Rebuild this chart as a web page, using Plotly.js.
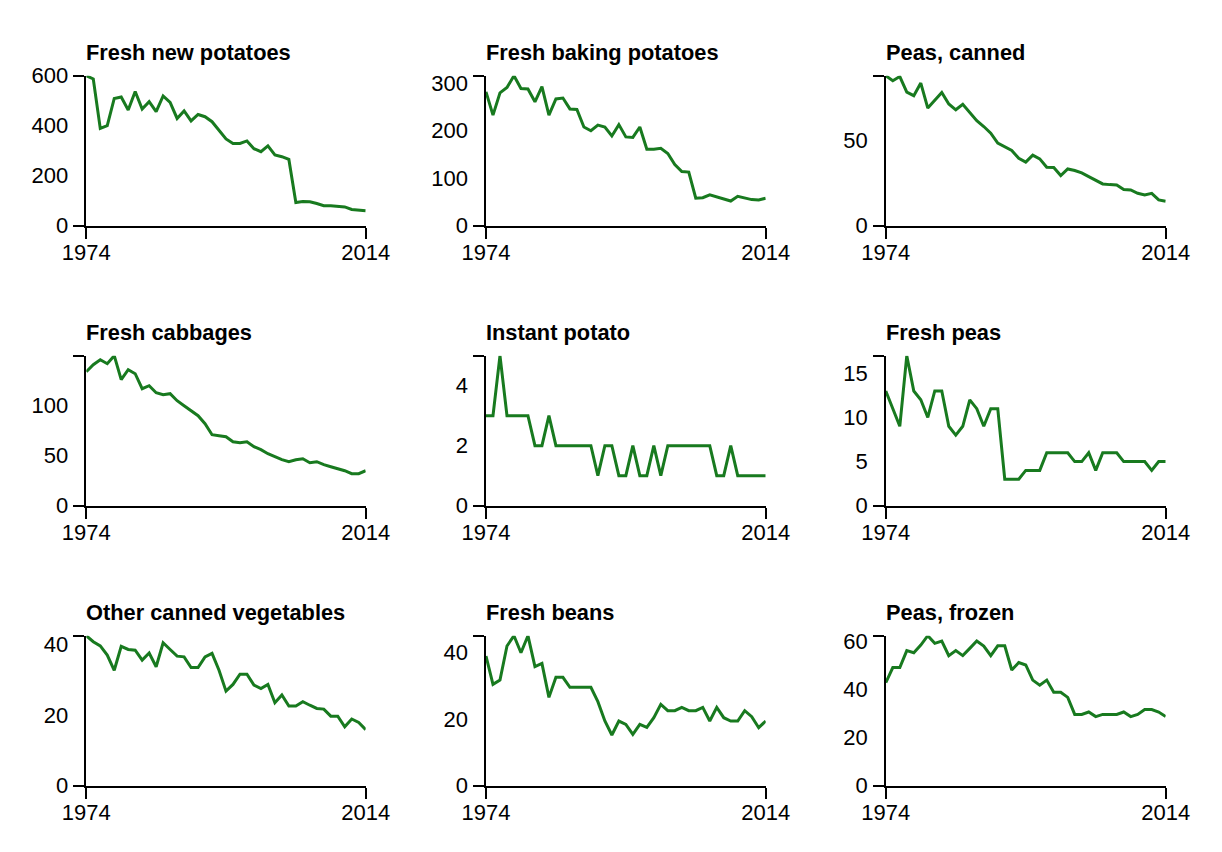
<!DOCTYPE html>
<html>
<head>
<meta charset="utf-8">
<script src="https://cdn.plot.ly/plotly-3.0.1.min.js"></script>
<style>
html,body{margin:0;padding:0;background:#fff;}
#chart{width:1222px;height:852px;}
</style>
</head>
<body>
<div id="chart"></div>
<script>
const years = [1974,1975,1976,1977,1978,1979,1980,1981,1982,1983,1984,1985,1986,1987,1988,1989,1990,1991,1992,1993,1994,1995,1996,1997,1998,1999,2000,2001,2002,2003,2004,2005,2006,2007,2008,2009,2010,2011,2012,2013,2014];
const xTickLabels = [1974, 2014];

const titles = ["Fresh new potatoes","Fresh baking potatoes","Peas, canned","Fresh cabbages","Instant potato","Fresh peas","Other canned vegetables","Fresh beans","Peas, frozen"];

const freshNewPotatoes = [600,587,389,400,509,515,463,537,467,496,456,519,493,429,459,419,445,436,416,383,347,329,329,339,308,296,319,283,276,265,93,97,96,89,80,80,77,75,65,64,60];
const freshBakingPotatoes = [282,233,280,291,316,289,288,261,293,233,267,269,246,245,208,200,212,208,189,213,187,186,208,161,161,163,152,129,114,113,58,59,65,61,56,52,62,59,55,54,58];
const peasCanned = [88,85,87.5,78.4,76.3,83.7,69,73.5,78.2,71.4,68,71.2,66.7,61.6,58.2,54.3,48.4,46,44.1,39.6,37.3,41.4,39.2,34.3,34.1,29.4,33.3,32.4,31,28.8,26.5,24.5,24.1,23.9,21.2,21,19,18,19,15.1,14.3];
const freshCabbages = [134,141,146,142,150,126,136,132,117,120,113,111,112,105,100,95,90,82,71,70,69,64,63,64,59,56,52,49,46,44,46,47,43,44,41,39,37,35,32,32,35];
const instantPotato = [3,3,5,3,3,3,3,2,2,3,2,2,2,2,2,2,1,2,2,1,1,2,1,1,2,1,2,2,2,2,2,2,2,1,1,2,1,1,1,1,1];
const freshPeas = [13,11,9,17,13,12,10,13,13,9,8,9,12,11,9,11,11,3,3,3,4,4,4,6,6,6,6,5,5,6,4,6,6,6,5,5,5,5,4,5,5];
const otherCannedVegetables = [42.5,40.8,39.6,37,32.7,39.5,38.6,38.4,35.6,37.6,33.7,40.5,38.6,36.7,36.5,33.5,33.5,36.5,37.5,32.7,26.8,28.7,31.6,31.6,28.5,27.5,28.7,23.5,25.7,22.6,22.6,23.8,22.8,21.9,21.7,19.7,19.7,16.7,18.9,17.9,15.9];
const freshBeans = [38.9,30.4,31.7,41.9,45,39.9,45,35.7,36.7,26.5,32.5,32.5,29.5,29.5,29.5,29.5,25.2,19.4,15.2,19.4,18.4,15.4,18.4,17.5,20.4,24.4,22.5,22.5,23.5,22.5,22.5,23.5,19.4,23.5,20.4,19.4,19.4,22.5,20.7,17.4,19.4];
const peasFrozen = [42.9,49.2,49.2,56.3,55.4,58.6,62.5,59.3,60.3,54.2,56.3,54.2,57.2,60.3,58.2,54.2,58.3,58.3,48.2,51.3,50.3,44,41.9,44,38.9,38.9,36.8,29.7,29.7,30.7,28.8,29.7,29.7,29.7,30.7,28.8,29.7,31.7,31.7,30.7,28.8];

const seriesList = [freshNewPotatoes, freshBakingPotatoes, peasCanned, freshCabbages, instantPotato, freshPeas, otherCannedVegetables, freshBeans, peasFrozen];

const yTicks1 = [0,200,400,600];
const yTicks2 = [0,100,200,300];
const yTicks3 = [0,50];
const yTicks4 = [0,50,100];
const yTicks5 = [0,2,4];
const yTicks6 = [0,5,10,15];
const yTicks7 = [0,20,40];
const yTicks8 = [0,20,40];
const yTicks9 = [0,20,40,60];
const yTickList = [yTicks1,yTicks2,yTicks3,yTicks4,yTicks5,yTicks6,yTicks7,yTicks8,yTicks9];

const W = 1222, H = 852;
const GREEN = '#187a1f';
const FONT = '"Liberation Sans", Arial, Helvetica, sans-serif';
const colPx = [[86.3,365.7],[486,765.7],[885.8,1165.7]];
const rowPx = [[75.7,225.7],[355.7,505.7],[635.7,785.7]];

const traces = [];
const layout = {
  width: W, height: H,
  margin: {l:0, r:0, t:0, b:0},
  paper_bgcolor: '#fff', plot_bgcolor: '#fff',
  showlegend: false,
  hovermode: false,
  font: {family: FONT, color: '#000'},
  annotations: []
};

seriesList.forEach((vals, i) => {
  const r = Math.floor(i / 3), c = i % 3, n = i + 1;
  const sfx = n === 1 ? '' : String(n);
  const xa = 'x' + sfx, ya = 'y' + sfx, yl = 'y' + (9 + n);
  const ymax = Math.max.apply(null, vals);
  // invisible carrier trace so the label-only overlay axis is drawn
  traces.push({
    x: years, y: vals, type: 'scatter', mode: 'lines',
    xaxis: xa, yaxis: yl,
    line: {color: 'rgba(0,0,0,0)', width: 0},
    opacity: 0, hoverinfo: 'skip'
  });
  traces.push({
    x: years, y: vals, type: 'scatter', mode: 'lines',
    xaxis: xa, yaxis: ya,
    line: {color: GREEN, width: 3},
    hoverinfo: 'skip'
  });
  layout['xaxis' + sfx] = {
    domain: [colPx[c][0] / W, colPx[c][1] / W],
    anchor: ya,
    range: [1974, 2014],
    tickmode: 'array', tickvals: xTickLabels, ticktext: xTickLabels.map(String),
    ticks: 'outside', ticklen: 11, tickwidth: 2, tickcolor: '#000',
    showline: true, linewidth: 2, linecolor: '#000',
    showgrid: false, zeroline: false,
    tickfont: {family: FONT, size: 22, color: '#000'},
    ticklabelstandoff: -5,
    fixedrange: true
  };
  layout['yaxis' + sfx] = {
    domain: [1 - rowPx[r][1] / H, 1 - rowPx[r][0] / H],
    anchor: xa,
    range: [0, ymax],
    tickmode: 'array', tickvals: [0, ymax],
    ticks: 'outside', ticklen: 11, tickwidth: 2, tickcolor: '#000',
    showticklabels: false,
    showline: true, linewidth: 2, linecolor: '#000',
    showgrid: false, zeroline: false,
    fixedrange: true
  };
  layout['yaxis' + (9 + n)] = {
    overlaying: ya,
    anchor: xa,
    side: 'left',
    range: [0, ymax],
    tickmode: 'array', tickvals: yTickList[i], ticktext: yTickList[i].map(String),
    ticks: '', showline: false, showgrid: false, zeroline: false,
    tickfont: {family: FONT, size: 22, color: '#000'},
    ticklabelstandoff: 17,
    fixedrange: true
  };
  layout.annotations.push({
    xref: xa + ' domain', yref: ya + ' domain',
    x: 0, y: 1, xanchor: 'left', yanchor: 'bottom',
    xshift: -2, yshift: 9,
    showarrow: false,
    text: '<b>' + titles[i] + '</b>',
    font: {family: FONT, size: 21.8, color: '#000'}
  });
});

Plotly.newPlot('chart', traces, layout, {staticPlot: true, displayModeBar: false});
</script>
</body>
</html>
